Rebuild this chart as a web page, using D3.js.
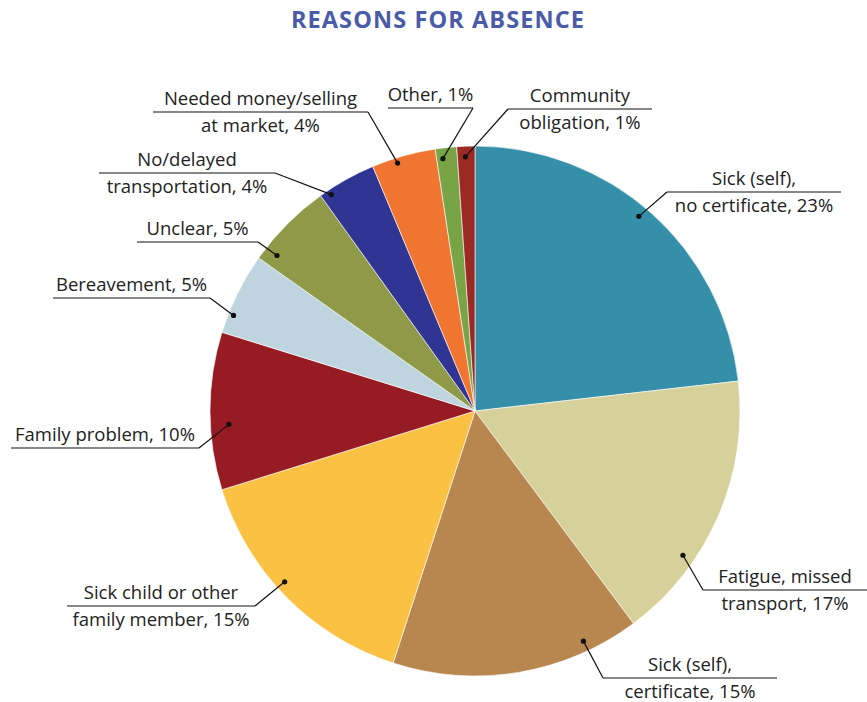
<!DOCTYPE html>
<html>
<head>
<meta charset="utf-8">
<script src="https://cdn.jsdelivr.net/npm/d3@7/dist/d3.min.js"></script>
<style>
  html, body { margin: 0; padding: 0; background: #fff; }
  svg { display: block; }
</style>
</head>
<body>
<svg id="chart" width="867" height="702"></svg>
<script>
// ---- Data ----
const categories = [
  "Sick (self), no certificate",
  "Fatigue, missed transport",
  "Sick (self), certificate",
  "Sick child or other family member",
  "Family problem",
  "Bereavement",
  "Unclear",
  "No/delayed transportation",
  "Needed money/selling at market",
  "Other",
  "Community obligation"
];
const values = [23.2, 16.6, 15.2, 15.2, 9.6, 5.0, 5.3, 3.6, 3.9, 1.3, 1.1];
const percentLabels = ["23%", "17%", "15%", "15%", "10%", "5%", "5%", "4%", "4%", "1%", "1%"];
const labelLines = [
  ["Sick (self),", "no certificate, 23%"],
  ["Fatigue, missed", "transport, 17%"],
  ["Sick (self),", "certificate, 15%"],
  ["Sick child or other", "family member, 15%"],
  ["Family problem, 10%"],
  ["Bereavement, 5%"],
  ["Unclear, 5%"],
  ["No/delayed", "transportation, 4%"],
  ["Needed money/selling", "at market, 4%"],
  ["Other, 1%"],
  ["Community", "obligation, 1%"]
];
const colors = ["#368fa8", "#d6d09b", "#b8864f", "#fbc143", "#961b22", "#bed5e0",
                "#8e9a47", "#303594", "#ef7530", "#78a446", "#9c2a24"];

// ---- Layout (label placement) ----
const labelLayout = [
  {ux1: 667, ux2: 841, uy: 192, attach: "start", f: 0.48, rf: 0.96},
  {ux1: 703, ux2: 867, uy: 590, attach: "start", f: 0.69, rf: 0.955},
  {ux1: 603, ux2: 777, uy: 678, attach: "start", f: 0.21, rf: 0.96},
  {ux1: 67,  ux2: 255, uy: 606, attach: "end",   f: 0.55, rf: 0.965},
  {ux1: 11,  ux2: 199, uy: 448, attach: "end",   f: 0.41, rf: 0.93},
  {ux1: 53,  ux2: 210, uy: 298, attach: "end",   f: 0.24, rf: 0.98},
  {ux1: 137, ux2: 258, uy: 242, attach: "end",   f: 0.15, rf: 0.95},
  {ux1: 99,  ux2: 275, uy: 173, attach: "end",   f: 0.16, rf: 0.98},
  {ux1: 153, ux2: 368, uy: 112, attach: "end",   f: 0.38, rf: 0.98},
  {ux1: 388, ux2: 473, uy: 108, attach: "end",   f: 0.3,  rf: 0.96},
  {ux1: 508, ux2: 652, uy: 109, attach: "start", f: 0.45, rf: 0.96}
];

const svg = d3.select("#chart");
const cx = 475, cy = 411, R = 265;

svg.append("text")
  .attr("x", 438).attr("y", 28)
  .attr("text-anchor", "middle")
  .attr("font-family", "'Open Sans', sans-serif")
  .attr("font-weight", 700)
  .attr("font-size", 23.5)
  .attr("letter-spacing", 1.1)
  .attr("fill", "#4a5ba8")
  .text("REASONS FOR ABSENCE");

const pie = d3.pie().sort(null).value(d => d)
  .startAngle(0).endAngle(2 * Math.PI);
const arcs = pie(values);
const arcGen = d3.arc().innerRadius(0).outerRadius(R);

const g = svg.append("g").attr("transform", `translate(${cx},${cy})`);
g.selectAll("path.slice")
  .data(arcs)
  .join("path")
  .attr("class", "slice")
  .attr("d", arcGen)
  .attr("fill", (d, i) => colors[i])
  .attr("stroke", "#ffffff")
  .attr("stroke-width", 0.6);

// Labels
const lblG = svg.append("g")
  .attr("font-family", "'Open Sans', sans-serif")
  .attr("font-size", 18.5)
  .attr("fill", "#222");

arcs.forEach((a, i) => {
  const L = labelLayout[i];
  const ang = a.startAngle + L.f * (a.endAngle - a.startAngle);
  const dx = cx + Math.sin(ang) * R * L.rf;
  const dy = cy - Math.cos(ang) * R * L.rf;
  const mid = (L.ux1 + L.ux2) / 2;
  const lines = labelLines[i];
  lblG.append("text")
    .attr("x", mid).attr("y", L.uy - 7)
    .attr("text-anchor", "middle")
    .text(lines[0]);
  if (lines.length > 1) {
    lblG.append("text")
      .attr("x", mid).attr("y", L.uy + 20)
      .attr("text-anchor", "middle")
      .text(lines[1]);
  }
  svg.append("line")
    .attr("x1", L.ux1).attr("x2", L.ux2)
    .attr("y1", L.uy).attr("y2", L.uy)
    .attr("stroke", "#111").attr("stroke-width", 1.2);
  const ax = L.attach === "start" ? L.ux1 : L.ux2;
  svg.append("line")
    .attr("x1", ax).attr("y1", L.uy)
    .attr("x2", dx).attr("y2", dy)
    .attr("stroke", "#111").attr("stroke-width", 1.2);
  svg.append("circle")
    .attr("cx", dx).attr("cy", dy).attr("r", 2.6)
    .attr("fill", "#111");
});
</script>
</body>
</html>
